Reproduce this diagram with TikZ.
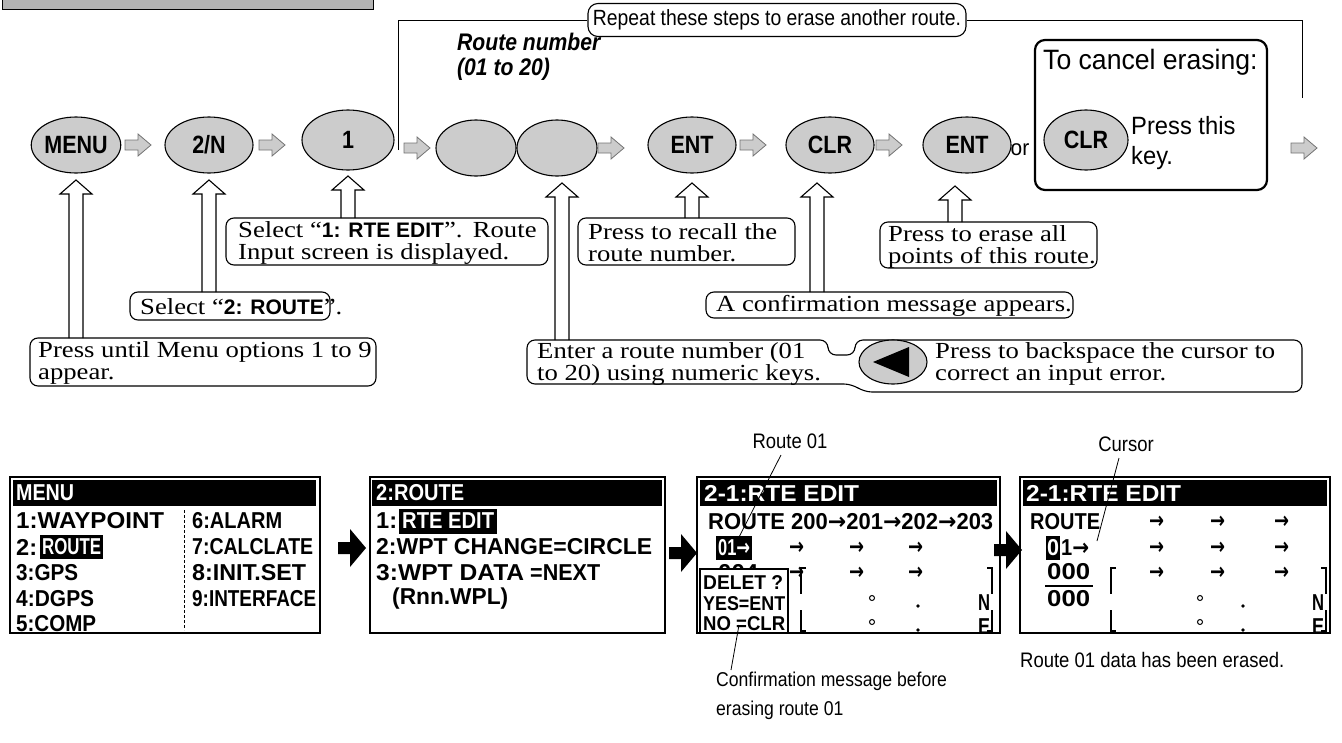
\documentclass[tikz,border=0pt]{standalone}
\usepackage{fontspec}
\usepackage{graphicx}
\usetikzlibrary{shapes.geometric}
\setmainfont{Liberation Serif}
\newfontfamily\callf[FakeStretch=1.16]{Liberation Serif}
\newfontfamily\sansf[FakeStretch=0.88]{Liberation Sans}
\newfontfamily\sansm[FakeStretch=0.95]{Liberation Sans}
\newfontfamily\sanswide{Liberation Sans}
\newfontfamily\keyf[FakeStretch=0.86]{Liberation Sans}
\newfontfamily\lcdf{Liberation Sans}
\newfontfamily\arrf{DejaVu Sans}
\newcommand\ar{{\arrf\bfseries →}}
\newcommand\lcd[2]{\resizebox{#1pt}{\height}{\lcdf\bfseries\fontsize{23}{23}\selectfont #2}}
\newcommand\lcds[2]{\resizebox{#1pt}{\height}{\lcdf\bfseries\fontsize{20}{20}\selectfont #2}}
\newcommand\bsans[1]{{\sanswide\bfseries\fontsize{21}{22}\selectfont #1}}
\newcommand\myUp[3]{\draw[hollow] ({#1-7},{#3}) -- ({#1-7},{#2+14}) -- ({#1-16},{#2+14}) -- ({#1},{#2}) -- ({#1+16},{#2+14}) -- ({#1+7},{#2+14}) -- ({#1+7},{#3});}
\newcommand\myFlow[2]{\draw[flow] ({#1-13},{#2-5}) -- ({#1},{#2-5}) -- ({#1},{#2-11}) -- ({#1+13},{#2}) -- ({#1},{#2+11}) -- ({#1},{#2+5}) -- ({#1-13},{#2+5}) -- cycle;}
\newcommand\myBlk[2]{\fill ({#1-14},{#2-6}) -- ({#1-2},{#2-6}) -- ({#1-2},{#2-19}) -- ({#1+14},{#2}) -- ({#1-2},{#2+19}) -- ({#1-2},{#2+6}) -- ({#1-14},{#2+6}) -- cycle;}
\tikzset{
 key/.style={ellipse, draw, line width=1.1pt, fill=black!20, inner sep=0pt, minimum width=88pt, minimum height=56pt, font=\keyf\bfseries\fontsize{25}{25}\selectfont},
 callout/.style={draw, line width=1.1pt, rounded corners=8pt},
 ctext/.style={anchor=west, inner sep=0pt, align=left, font=\callf\fontsize{23}{22}\selectfont},
 hollow/.style={draw, line width=1.1pt, fill=white, line join=miter},
 flow/.style={draw=black!55, fill=black!20, line width=0.8pt},
 screen/.style={draw, line width=1.5pt},
 lcdn/.style={anchor=west, inner sep=0pt},
 lcdw/.style={anchor=west, inner sep=0pt, text=white},
 lbl/.style={inner sep=0pt, font=\sansf\fontsize{21}{29}\selectfont},
 leader/.style={line width=0.8pt},
 brk/.style={line width=1.3pt},
}
\begin{document}
\begin{tikzpicture}[x=1pt,y=-1pt]
\useasboundingbox (0,0) rectangle (1342,742);
% header remnant
\draw[line width=1pt, fill=black!30] (2,-5) rectangle (373,9);

% repeat loop
\node[draw, rounded corners=10pt, line width=1.1pt, minimum width=378pt, minimum height=33pt, inner sep=0pt, font=\sansf\fontsize{22}{22}\selectfont] (rep) at (777,20) {Repeat these steps to erase another route.};
\coordinate (loopL) at (398,150);
\coordinate (loopR) at (1302,98);
\draw[line width=1pt] (loopL) -- (398,20) -- (rep.west);
\draw[line width=1pt] (rep.east) -- (1302,20) -- (loopR);

% route number title
\node[anchor=north west, inner sep=0pt, align=left, font=\sansf\bfseries\itshape\fontsize{24}{25}\selectfont] (rnum) at (457,33) {Route number\\(01 to 20)};

% keys
\node[key] (kmenu) at (76,145) {MENU};
\node[key] (k2n) at (209,145) {2/N};
\node[key, minimum width=92pt, minimum height=60pt] (k1) at (348,140) {1};
\node[key, minimum width=80pt] (kd1) at (476,148) {};
\node[key, minimum width=80pt] (kd2) at (557,148) {};
\node[key] (kent) at (692,145) {ENT};
\node[key] (kclr) at (830,145) {CLR};
\node[key] (kent2) at (967,145) {ENT};
\node[inner sep=0pt, font=\sansm\fontsize{22}{22}\selectfont] (or) at (1020,150) {or};

% flow arrows
\myFlow{138}{145}
\myFlow{272}{145}
\myFlow{417}{148}
\myFlow{611}{148}
\myFlow{753}{145}
\myFlow{889}{145}
\myFlow{1304}{148}

% cancel box
\draw[line width=2.2pt, rounded corners=10pt] (1035,40) rectangle (1267,190);
\node[anchor=west, inner sep=0pt, font=\sansm\fontsize{28}{28}\selectfont] (cancel) at (1043,62) {To cancel erasing:};
\node[key, minimum width=84pt, minimum height=60pt] (kclr2) at (1086,140) {CLR};
\node[anchor=west, inner sep=0pt, align=left, font=\sansm\fontsize{25}{30}\selectfont] (pressthis) at (1131,143) {Press this\\key.};

% up arrows
\myUp{76}{180}{338}
\myUp{209}{180}{292}
\myUp{348}{176}{218}
\myUp{562}{183}{340}
\myUp{692}{183}{218}
\myUp{817}{183}{292}
\myUp{955}{186}{222}

% callouts
\draw[callout] (226,218) rectangle (548,265);
\node[ctext] (c1) at (238,243) {Select “\bsans{1: RTE EDIT}”.\hspace{0.45em}Route\\Input screen is displayed.};
\draw[callout] (130,292) rectangle (330,320);
\node[ctext] (c2) at (140,307) {Select “\bsans{2: ROUTE}”.};
\draw[callout] (30,338) rectangle (376,386);
\node[ctext] (c3) at (38,363) {Press until Menu options 1 to 9\\appear.};
\draw[callout] (578,218) rectangle (795,265);
\node[ctext] (c4) at (588,243) {Press to recall the\\route number.};
\draw[callout] (880,222) rectangle (1097,268);
\node[ctext] (c5) at (888,247) {Press to erase all\\points of this route.};
\draw[callout] (706,292) rectangle (1073,318);
\node[ctext] (c6) at (716,306) {A confirmation message appears.};
\draw[callout] (527,340) -- (828,340) -- (828,355) -- (855,355) -- (855,340) -- (1302,340) -- (1302,392) -- (864,392) -- (852,384) -- (527,384) -- cycle;
\node[ctext] (c7) at (537,364) {Enter a route number (01\\to 20) using numeric keys.};
\node[key, minimum width=68pt, minimum height=44pt] (kback) at (893,362) {};
\fill (873,362) -- (909,347) -- (909,377) -- cycle;
\node[ctext] (c8) at (935,364) {Press to backspace the cursor to\\correct an input error.};

% ---------- screen 1
\draw[screen] (10,477) rectangle (320,633);
\fill (13,480) rectangle (316,506);
\node[lcdw] (s1t) at (16,493) {\lcd{58}{MENU}};
\node[lcdn] (s1a) at (16,521) {\lcd{148}{1:WAYPOINT}};
\node[lcdn] (s1b) at (16,547) {\lcd{21}{2:}};
\fill (40,535) rectangle (103,559);
\node[lcdw] (s1bh) at (42,547) {\lcd{59}{ROUTE}};
\node[lcdn] (s1c) at (16,573) {\lcd{62}{3:GPS}};
\node[lcdn] (s1d) at (16,599) {\lcd{78}{4:DGPS}};
\node[lcdn] (s1e) at (16,624) {\lcd{80}{5:COMP}};
\draw[line width=1pt, dash pattern=on 3pt off 2pt] (184,510) -- (184,630);
\node[lcdn] (s1f) at (192,521) {\lcd{90}{6:ALARM}};
\node[lcdn] (s1g) at (192,547) {\lcd{121}{7:CALCLATE}};
\node[lcdn] (s1h) at (192,573) {\lcd{114}{8:INIT.SET}};
\node[lcdn] (s1i) at (192,599) {\lcd{124}{9:INTERFACE}};
\myBlk{352}{548}

% ---------- screen 2
\draw[screen] (370,477) rectangle (665,633);
\fill (372,480) rectangle (662,506);
\node[lcdw] (s2t) at (376,493) {\lcd{88}{2:ROUTE}};
\node[lcdn] (s2a) at (376,521) {\lcd{21}{1:}};
\fill (399,509) rectangle (497,534);
\node[lcdw] (s2ah) at (402,521) {\lcd{92}{RTE EDIT}};
\node[lcdn] (s2b) at (376,547) {\lcd{276}{2:WPT CHANGE=CIRCLE}};
\node[lcdn] (s2c) at (376,573) {\lcd{148}{3:WPT DATA}};
\node[lcdn] (s2c2) at (530,573) {\lcd{70}{=NEXT}};
\node[lcdn] (s2d) at (392,599) {\lcd{116}{(Rnn.WPL)}};
\myBlk{683}{553}

% ---------- screen 3
\draw[screen] (697,477) rectangle (1000,633);
\fill (700,480) rectangle (997,506);
\node[lcdw] (s3t) at (704,493) {\lcd{155}{2-1:RTE EDIT}};
\node[lcdn] (s3a) at (708,522) {\lcd{285}{ROUTE 200\ar201\ar202\ar203}};
\fill (716,536) rectangle (752,560);
\node[lcdw] (s3b) at (718,548) {\lcd{32}{01\ar}};
\node[lcdn] (s3ar1) at (789,548) {\lcd{15}{\ar}};
\node[lcdn] (s3ar2) at (849,548) {\lcd{15}{\ar}};
\node[lcdn] (s3ar3) at (908,548) {\lcd{15}{\ar}};
\node[lcdn] (s3ar4) at (789,573) {\lcd{15}{\ar}};
\node[lcdn] (s3ar5) at (849,573) {\lcd{15}{\ar}};
\node[lcdn] (s3ar6) at (908,573) {\lcd{15}{\ar}};
\begin{scope}
\clip (700,555) rectangle (790,569);
\node[lcdn] (s3c) at (718,573) {\lcd{40}{004}};
\end{scope}
\draw[line width=1.5pt, fill=white] (700,569) rectangle (788,633);
\node[lcdn] (s3d1) at (703,583) {\lcds{80}{DELET ?}};
\node[lcdn] (s3d2) at (703,604) {\lcds{82}{YES=ENT}};
\node[lcdn] (s3d3) at (703,624) {\lcds{82}{NO =CLR}};
\draw[brk] (806,568) -- (801,568) -- (801,594);
\draw[brk] (801,610) -- (801,631) -- (806,631);
\draw[brk] (987,568) -- (992,568) -- (992,594);
\draw[brk] (992,610) -- (992,631) -- (987,631);
\draw[line width=1pt] (872,598) circle (2.5);
\draw[line width=1pt] (872,622) circle (2.5);
\fill (918,606) circle (1.8);
\fill (918,630) circle (1.8);
\node[lcdn] (s3n) at (978,603) {\lcd{12}{N}};
\node[lcdn] (s3e) at (978,627) {\lcd{12}{E}};
\myBlk{1008}{550}

% ---------- screen 4
\draw[screen] (1020,477) rectangle (1330,633);
\fill (1023,480) rectangle (1327,506);
\node[lcdw] (s4t) at (1026,493) {\lcd{155}{2-1:RTE EDIT}};
\node[lcdn] (s4a) at (1030,522) {\lcd{70}{ROUTE}};
\node[lcdn] (s4ar1) at (1149,522) {\lcd{15}{\ar}};
\node[lcdn] (s4ar2) at (1210,522) {\lcd{15}{\ar}};
\node[lcdn] (s4ar3) at (1274,522) {\lcd{15}{\ar}};
\node[lcdn] (s4ar4) at (1149,548) {\lcd{15}{\ar}};
\node[lcdn] (s4ar5) at (1210,548) {\lcd{15}{\ar}};
\node[lcdn] (s4ar6) at (1274,548) {\lcd{15}{\ar}};
\node[lcdn] (s4ar7) at (1149,573) {\lcd{15}{\ar}};
\node[lcdn] (s4ar8) at (1210,573) {\lcd{15}{\ar}};
\node[lcdn] (s4ar9) at (1274,573) {\lcd{15}{\ar}};
\fill (1046,536) rectangle (1060,560);
\node[lcdw] (s4b0) at (1047,548) {\lcd{12}{0}};
\node[lcdn] (s4b1) at (1061,548) {\lcd{28}{1\ar}};
\node[lcdn] (s4c) at (1047,572) {\lcd{43}{000}};
\draw[line width=2.5pt] (1045,586) -- (1093,586);
\node[lcdn] (s4d) at (1047,599) {\lcd{43}{000}};
\draw[brk] (1116,568) -- (1111,568) -- (1111,594);
\draw[brk] (1111,610) -- (1111,631) -- (1116,631);
\draw[brk] (1321,568) -- (1326,568) -- (1326,594);
\draw[brk] (1326,610) -- (1326,631) -- (1321,631);
\draw[line width=1pt] (1200,598) circle (2.5);
\draw[line width=1pt] (1200,622) circle (2.5);
\fill (1243,606) circle (1.8);
\fill (1243,630) circle (1.8);
\node[lcdn] (s4n) at (1312,603) {\lcd{12}{N}};
\node[lcdn] (s4e) at (1312,627) {\lcd{12}{E}};

% labels and leaders
\node[lbl] (lr01) at (790,441) {Route 01};
\coordinate (lr01end) at (737,541);
\draw[leader] (781,455) -- (lr01end);
\node[lbl] (lcur) at (1126,444) {Cursor};
\coordinate (lcurend) at (1097,541);
\draw[leader] (1119,458) -- (lcurend);
\node[lbl, anchor=north west, align=left, font=\sansf\fontsize{20}{29}\selectfont] (lconf) at (716,672) {Confirmation message before\\erasing route 01};
\coordinate (lconfend) at (739,625);
\draw[leader] (lconfend) -- (731,670);
\node[lbl, anchor=west] (lerased) at (1020,660) {Route 01 data has been erased.};
\end{tikzpicture}
\end{document}
